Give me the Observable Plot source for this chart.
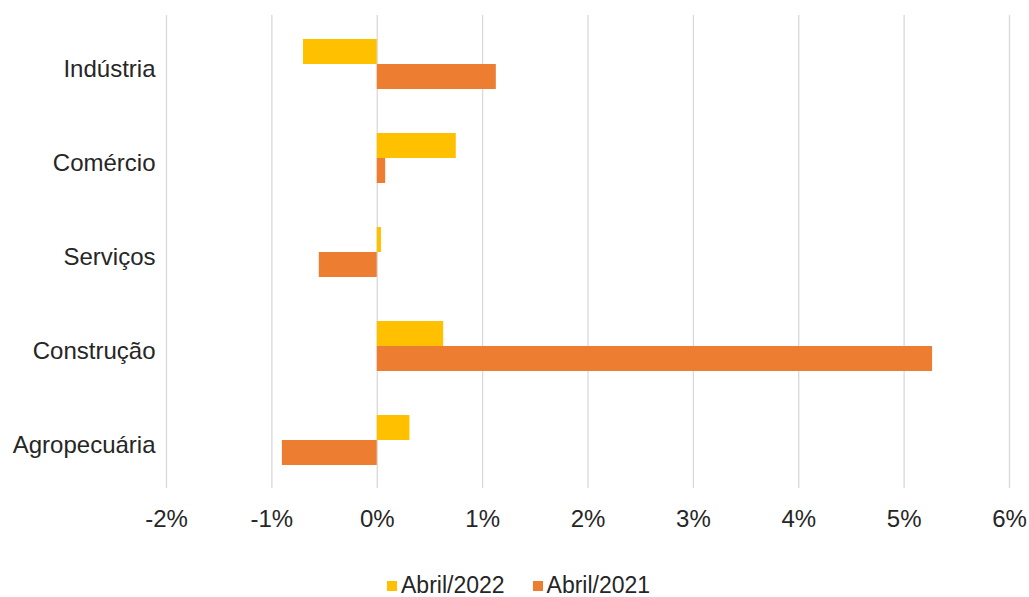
<!DOCTYPE html>
<html>
<head>
<meta charset="utf-8">
<script src="https://cdn.jsdelivr.net/npm/d3@7"></script>
<script src="https://cdn.jsdelivr.net/npm/@observablehq/plot@0.6"></script>
<style>
  body { margin: 0; background: #fff; font-family: "Liberation Sans", Arial, sans-serif; }
  #legend {
    display: flex; align-items: center;
    padding-left: 387px; padding-top: 9px;
    font-size: 23px; line-height: 23px; color: #262626;
  }
  #legend .item { display: flex; align-items: center; margin-right: 28px; }
  #legend .sw { width: 10px; height: 10px; margin-right: 4px; display: inline-block; }
</style>
</head>
<body>
<div id="chart"></div>
<div id="legend"></div>
<script>
// Sectors and monthly variation (%) for each period
const setores = ["Indústria", "Comércio", "Serviços", "Construção", "Agropecuária"];
const abril2022 = [-0.70, 0.75, 0.04, 0.63, 0.31];
const abril2021 = [1.13, 0.08, -0.55, 5.27, -0.90];
const series = ["Abril/2022", "Abril/2021"];
const cores = ["#FFC000", "#ED7D31"];
const xTicks = [-2, -1, 0, 1, 2, 3, 4, 5, 6];

const linhas2022 = setores.map((s, i) => ({setor: s, serie: series[0], valor: abril2022[i]}));
const linhas2021 = setores.map((s, i) => ({setor: s, serie: series[1], valor: abril2021[i]}));

const chart = Plot.plot({
  width: 1029,
  height: 565,
  marginLeft: 166,
  marginRight: 20,
  marginTop: 15,
  marginBottom: 77,
  style: {fontSize: "24px", fontFamily: "'Liberation Sans', Arial, sans-serif", color: "#262626", background: "#fff"},
  x: {domain: [-2, 6]},
  y: {domain: setores, paddingInner: 0.47, paddingOuter: 0.235, label: null},
  color: {domain: series, range: cores},
  marks: [
    Plot.gridX(xTicks, {stroke: "#d9d9d9", strokeOpacity: 1, strokeWidth: 1.3}),
    Plot.axisX(xTicks, {tickSize: 0, tickPadding: 21, tickFormat: d => d + "%", label: null}),
    Plot.axisY({tickSize: 0, tickPadding: 11, dy: 5, label: null}),
    // upper bar of each pair: Abril/2022
    Plot.barX(linhas2022, {x: "valor", y: "setor", fill: "serie", insetBottom: 25}),
    // lower bar of each pair: Abril/2021
    Plot.barX(linhas2021, {x: "valor", y: "setor", fill: "serie", insetTop: 25})
  ]
});
document.getElementById("chart").appendChild(chart);

// legend below the chart
const legend = document.getElementById("legend");
series.forEach((s, i) => {
  const item = document.createElement("div");
  item.className = "item";
  const sw = document.createElement("span");
  sw.className = "sw";
  sw.style.background = cores[i];
  const label = document.createElement("span");
  label.textContent = s;
  item.appendChild(sw);
  item.appendChild(label);
  legend.appendChild(item);
});
</script>
</body>
</html>
